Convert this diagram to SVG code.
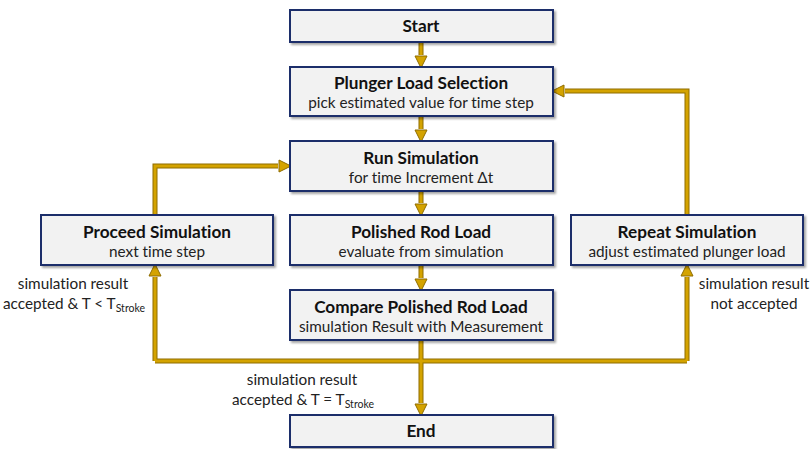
<svg xmlns="http://www.w3.org/2000/svg" width="812" height="449" viewBox="0 0 812 449">
<defs>
<filter id="sh" x="-10%" y="-20%" width="120%" height="150%"><feDropShadow dx="2" dy="2" stdDeviation="1.2" flood-color="#000" flood-opacity="0.35"/></filter>
<marker id="ah" viewBox="0 0 14 14" refX="12" refY="7" markerWidth="14" markerHeight="14" markerUnits="userSpaceOnUse" orient="auto"><path d="M1,1 L13,7 L1,13 Z" fill="#d4a300" stroke="#8f6d00" stroke-width="1"/></marker>
</defs>
<style>
text{font-family:Lato,"Open Sans",sans-serif;font-variant-ligatures:none;text-anchor:middle}
.box{fill:#f2f2f2;stroke:#1f2d6b;stroke-width:2;filter:url(#sh)}
.t{font-weight:bold;font-size:17.2px;fill:#111}
.s{font-size:15.3px;fill:#222}
.l{font-size:15.3px;fill:#222}
.sub{font-size:10.5px}
.o{fill:none;stroke:#8f6d00;stroke-width:5}
.i{fill:none;stroke:#d4a300;stroke-width:3}
</style>
<g id="connectors">
<path class="o" d="M421,42 V55 M421,116 V129 M421,191 V203 M421,265 V278 M421,340 V403 M155,361 H687 M155,361 V277 M155,215 V166 H278 M687,361 V277 M687,215 V91 H565"/>
<path class="i" d="M421,42 V55 M421,116 V129 M421,191 V203 M421,265 V278 M421,340 V403 M155,361 H687 M155,361 V277 M155,215 V166 H278 M687,361 V277 M687,215 V91 H565"/>
<path d="M421,42 V67" fill="none" stroke="none" marker-end="url(#ah)"/>
<path d="M421,116 V141" fill="none" stroke="none" marker-end="url(#ah)"/>
<path d="M421,191 V215" fill="none" stroke="none" marker-end="url(#ah)"/>
<path d="M421,265 V290" fill="none" stroke="none" marker-end="url(#ah)"/>
<path d="M421,340 V415" fill="none" stroke="none" marker-end="url(#ah)"/>
<path d="M155,361 V265" fill="none" stroke="none" marker-end="url(#ah)"/>
<path d="M687,361 V265" fill="none" stroke="none" marker-end="url(#ah)"/>
<path d="M155,166 H290" fill="none" stroke="none" marker-end="url(#ah)"/>
<path d="M687,91 H553" fill="none" stroke="none" marker-end="url(#ah)"/>
</g>
<g id="start"><rect class="box" x="290" y="10" width="263" height="32"/><text class="t" x="421" y="32">Start</text></g>
<g id="plunger"><rect class="box" x="290" y="67" width="263" height="49"/><text class="t" x="421" y="89">Plunger Load Selection</text><text class="s" x="421" y="108">pick estimated value for time step</text></g>
<g id="run"><rect class="box" x="290" y="141" width="263" height="50"/><text class="t" x="421" y="164">Run Simulation</text><text class="s" x="421" y="183">for time Increment Δt</text></g>
<g id="polished"><rect class="box" x="290" y="215" width="263" height="50"/><text class="t" x="421" y="238">Polished Rod Load</text><text class="s" x="421" y="257">evaluate from simulation</text></g>
<g id="compare"><rect class="box" x="290" y="290" width="263" height="50"/><text class="t" x="421" y="313">Compare Polished Rod Load</text><text class="s" x="421" y="332">simulation Result with Measurement</text></g>
<g id="end"><rect class="box" x="290" y="415" width="263" height="32"/><text class="t" x="421" y="437">End</text></g>
<g id="proceed"><rect class="box" x="41" y="215" width="232" height="50"/><text class="t" x="157" y="238">Proceed Simulation</text><text class="s" x="157" y="257">next time step</text></g>
<g id="repeat"><rect class="box" x="571" y="215" width="232" height="50"/><text class="t" x="687" y="238">Repeat Simulation</text><text class="s" x="687" y="257">adjust estimated plunger load</text></g>
<g id="labels">
<text class="l" x="73" y="289">simulation result</text>
<text class="l" x="74" y="309">accepted &amp; T &lt; T<tspan class="sub" dy="3">Stroke</tspan></text>
<text class="l" x="754" y="289">simulation result</text>
<text class="l" x="754" y="309">not accepted</text>
<text class="l" x="302" y="385">simulation result</text>
<text class="l" x="303" y="405">accepted &amp; T = T<tspan class="sub" dy="3">Stroke</tspan></text>
</g>
</svg>
